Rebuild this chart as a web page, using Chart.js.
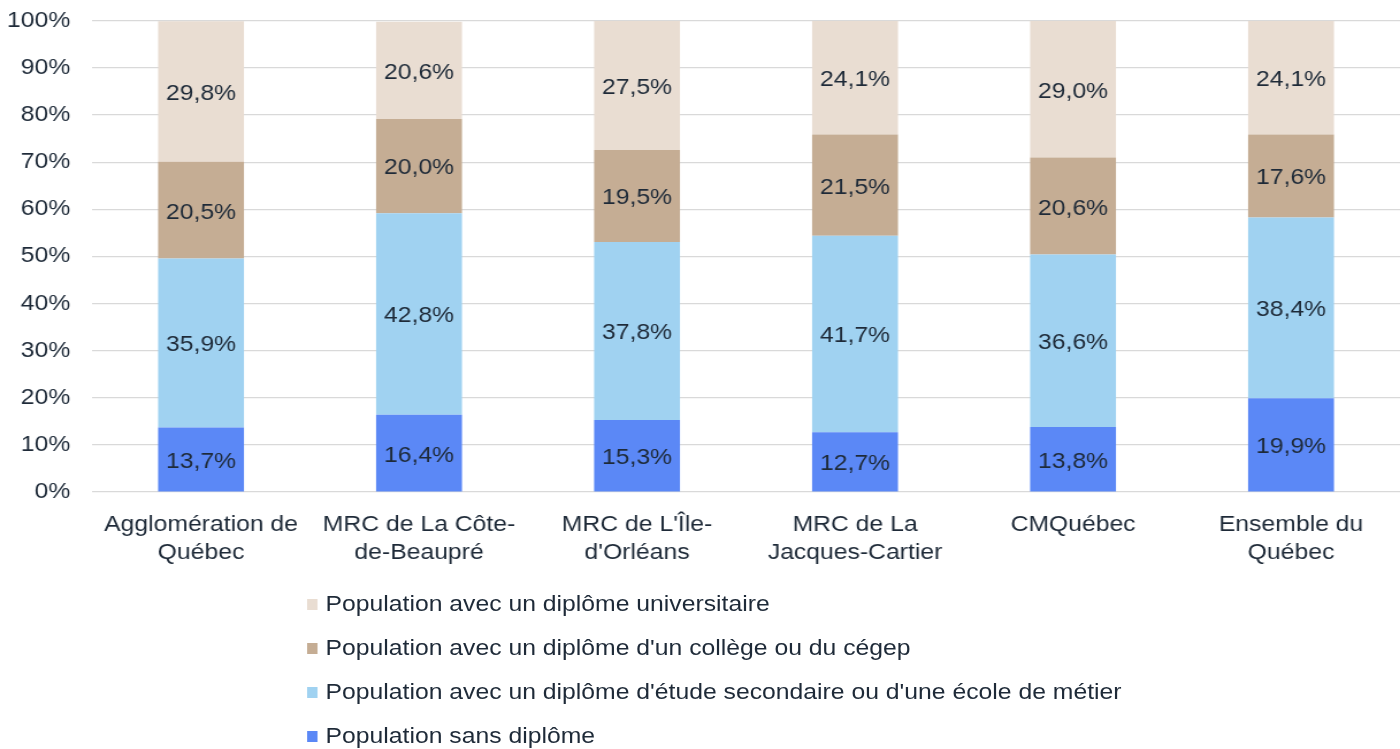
<!DOCTYPE html>
<html lang="fr">
<head>
<meta charset="utf-8">
<script src="https://cdn.jsdelivr.net/npm/chart.js@4.4.1/dist/chart.umd.min.js"></script>
<style>
  html, body { margin: 0; padding: 0; background: #fff; overflow: hidden; }
  #wrap {
    position: relative; width: 1217px; height: 749px;
    transform: scaleX(1.1504); transform-origin: 0 0;
    font-family: "Liberation Sans", Arial, sans-serif; color: #1e2a38;
  }
  #chartBox { position: absolute; left: 0; top: -11px; width: 1217px; height: 589px; }
  #legend { position: absolute; left: 267px; top: 582px; }
  .item { height: 44px; display: flex; align-items: center; font-size: 21.5px; }
  .item span.box { width: 9px; height: 11px; margin-right: 7px; display: inline-block; }
</style>
</head>
<body>
<div id="wrap">
  <div id="chartBox"><canvas id="c"></canvas></div>
  <div id="legend"></div>
</div>
<script>
// Territoires comparés
const categories = [
  ["Agglomération de", "Québec"],
  ["MRC de La Côte-", "de-Beaupré"],
  ["MRC de L'Île-", "d'Orléans"],
  ["MRC de La", "Jacques-Cartier"],
  "CMQuébec",
  ["Ensemble du", "Québec"]
];

// Répartition (%) selon le plus haut diplôme obtenu
const sansDiplome   = [13.7, 16.4, 15.3, 12.7, 13.8, 19.9];
const secondaire    = [35.9, 42.8, 37.8, 41.7, 36.6, 38.4];
const college       = [20.5, 20.0, 19.5, 21.5, 20.6, 17.6];
const universitaire = [29.8, 20.6, 27.5, 24.1, 29.0, 24.1];

const seriesNames = [
  "Population sans diplôme",
  "Population avec un diplôme d'étude secondaire ou d'une école de métier",
  "Population avec un diplôme d'un collège ou du cégep",
  "Population avec un diplôme universitaire"
];
const seriesColors = ["#5b88f6", "#a0d2f1", "#c5ad94", "#e9ddd2"];

const yTicks = [0, 10, 20, 30, 40, 50, 60, 70, 80, 90, 100];

const TEXT = "#1e2a38";
const FONT = '"Liberation Sans", Arial, sans-serif';
const FSIZE = 21.5;

const frNum = v => v.toFixed(1).replace(".", ",") + "%";

// Étiquettes de valeur centrées dans chaque segment
const segmentLabels = {
  id: "segmentLabels",
  afterDatasetsDraw(chart) {
    const ctx = chart.ctx;
    ctx.save();
    ctx.font = FSIZE + "px " + FONT;
    ctx.fillStyle = TEXT;
    ctx.textAlign = "center";
    ctx.textBaseline = "middle";
    chart.data.datasets.forEach((ds, i) => {
      chart.getDatasetMeta(i).data.forEach((bar, j) => {
        const p = bar.getProps(["x", "y", "base"], true);
        ctx.fillText(frNum(ds.data[j]), p.x, (p.y + p.base) / 2 + 2.5);
      });
    });
    ctx.restore();
  }
};

const datasets = [sansDiplome, secondaire, college, universitaire].map((d, i) => ({
  label: seriesNames[i],
  data: d,
  backgroundColor: seriesColors[i],
  borderWidth: 0,
  barPercentage: 0.394,
  categoryPercentage: 1.0
}));

new Chart(document.getElementById("c"), {
  type: "bar",
  data: { labels: categories, datasets },
  options: {
    responsive: true,
    maintainAspectRatio: false,
    animation: false,
    layout: { padding: { top: 10, right: 0, left: 0, bottom: 0 } },
    plugins: { legend: { display: false }, tooltip: { enabled: false } },
    scales: {
      x: {
        stacked: true,
        grid: { display: false },
        border: { display: false },
        ticks: {
          color: TEXT, font: { family: FONT, size: FSIZE, lineHeight: 1.3 },
          padding: 11, maxRotation: 0, autoSkip: false
        }
      },
      y: {
        stacked: true,
        min: 0, max: 100,
        afterFit(scale) { scale.width = 80; },
        afterBuildTicks(scale) { scale.ticks = yTicks.map(v => ({ value: v })); },
        grid: { color: "#d9d9d9", lineWidth: 1.3, drawTicks: false },
        border: { display: false },
        ticks: {
          color: TEXT, font: { family: FONT, size: FSIZE }, padding: 19,
          callback: v => v + "%"
        }
      }
    }
  },
  plugins: [segmentLabels]
});

// Légende verticale, de la catégorie du haut vers celle du bas
const legend = document.getElementById("legend");
for (let i = seriesNames.length - 1; i >= 0; i--) {
  const row = document.createElement("div");
  row.className = "item";
  const box = document.createElement("span");
  box.className = "box";
  box.style.background = seriesColors[i];
  row.appendChild(box);
  row.appendChild(document.createTextNode(seriesNames[i]));
  legend.appendChild(row);
}
</script>
</body>
</html>
